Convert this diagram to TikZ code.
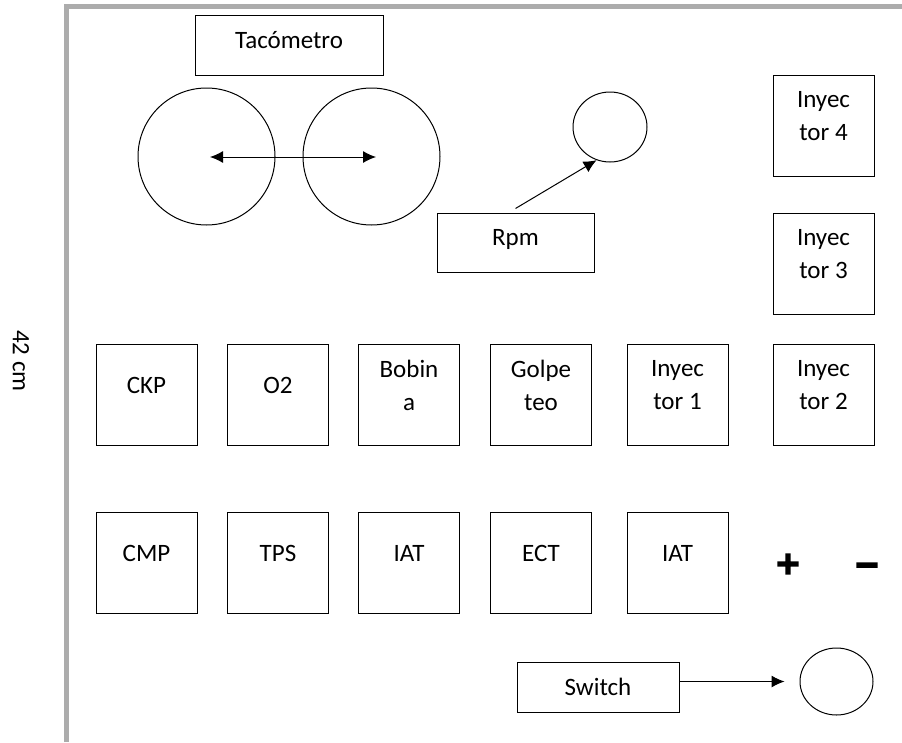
\documentclass[tikz,border=0pt]{standalone}
\usepackage{fontspec}
\setmainfont{Carlito}
\newfontfamily\signos[FakeBold=6]{DejaVu Sans Bold}
\usetikzlibrary{arrows.meta,shapes.geometric}
\newcommand{\letra}{\fontsize{25}{33}\selectfont}

\tikzset{
  caja/.style={draw, line width=1pt, minimum width=101pt, minimum height=101pt, inner sep=0pt},
  rotulo/.style={align=center, yshift=9.5pt, inner sep=0pt},
  cuadro/.style={draw, line width=1pt, text height=16pt, text depth=10pt},
  rueda/.style={draw, line width=1pt, circle, minimum size=137pt, inner sep=0pt},
  foco/.style={draw, line width=1pt, ellipse, minimum width=74pt, minimum height=70pt, inner sep=0pt},
  marco/.style={line width=5pt, color=gray!65},
  signo/.style={font=\signos\fontsize{31}{31}\selectfont, inner sep=0pt},
}

\begin{document}
\begin{tikzpicture}[x=1pt, y=-1pt, font=\letra, >={Latex[length=13pt,width=12pt]}]
\useasboundingbox (0,0) rectangle (902,742);
\draw[marco] (66,742) -- (66,6.5) -- (902,6.5);
\draw (21,361) node[rotate=-90] (medida) {42 cm};

% tacometro y ruedas
\draw (289,45) node[cuadro, minimum width=188pt, minimum height=60pt] (tacometro) {Tacómetro};
\draw (206.5,156.5) node[rueda] (ruedaA) {};
\draw (371.5,156.5) node[rueda] (ruedaB) {};
\coordinate (puntaA) at (210,157);
\coordinate (puntaB) at (376,157);
\draw[<->, line width=1pt] (puntaA) -- (puntaB);

% rpm
\draw (515.5,242.5) node[cuadro, minimum width=157pt, minimum height=59pt] (rpm) {Rpm};
\draw (610,127) node[foco] (reloj) {};
\draw[->, line width=1pt] ([yshift=4pt]rpm.north) -- (reloj.-112);

% inyectores
\draw (823.5,125.5) node[caja, label={[rotulo]center:Inyec\\tor 4}] (iny4) {};
\draw (823.5,263.5) node[caja, label={[rotulo]center:Inyec\\tor 3}] (iny3) {};

% fila de sensores
\draw (146.5,394.5) node[caja, label={[rotulo]center:CKP}] (ckp) {};
\draw (278,394.5) node[caja, label={[rotulo]center:O2}] (oxigeno) {};
\draw (409,394.5) node[caja, label={[rotulo]center:Bobin\\a}] (bobina) {};
\draw (541,394.5) node[caja, label={[rotulo]center:Golpe\\teo}] (golpeteo) {};
\draw (677.5,394.5) node[caja, label={[rotulo]center:Inyec\\tor 1}] (iny1) {};
\draw (823.5,394.5) node[caja, label={[rotulo]center:Inyec\\tor 2}] (iny2) {};

\draw (146.5,563) node[caja, label={[rotulo]center:CMP}] (cmp) {};
\draw (278,563) node[caja, label={[rotulo]center:TPS}] (tps) {};
\draw (409,563) node[caja, label={[rotulo]center:IAT}] (iatA) {};
\draw (541,563) node[caja, label={[rotulo]center:ECT}] (ect) {};
\draw (677.5,563) node[caja, label={[rotulo]center:IAT}] (iatB) {};

% bornes
\draw (788,564) node[signo] (positivo) {+};
\draw (867,569) node[signo] (negativo) {−};

% switch
\draw (598,687) node[cuadro, minimum width=162pt, minimum height=50pt, text depth=0pt] (switch) {Switch};
\draw (836.5,681.5) node[foco, minimum width=73pt, minimum height=67pt] (luz) {};
\draw[->, line width=1pt, shorten >=15pt] (switch.east |- luz.west) -- (luz.west);
\end{tikzpicture}
\end{document}
